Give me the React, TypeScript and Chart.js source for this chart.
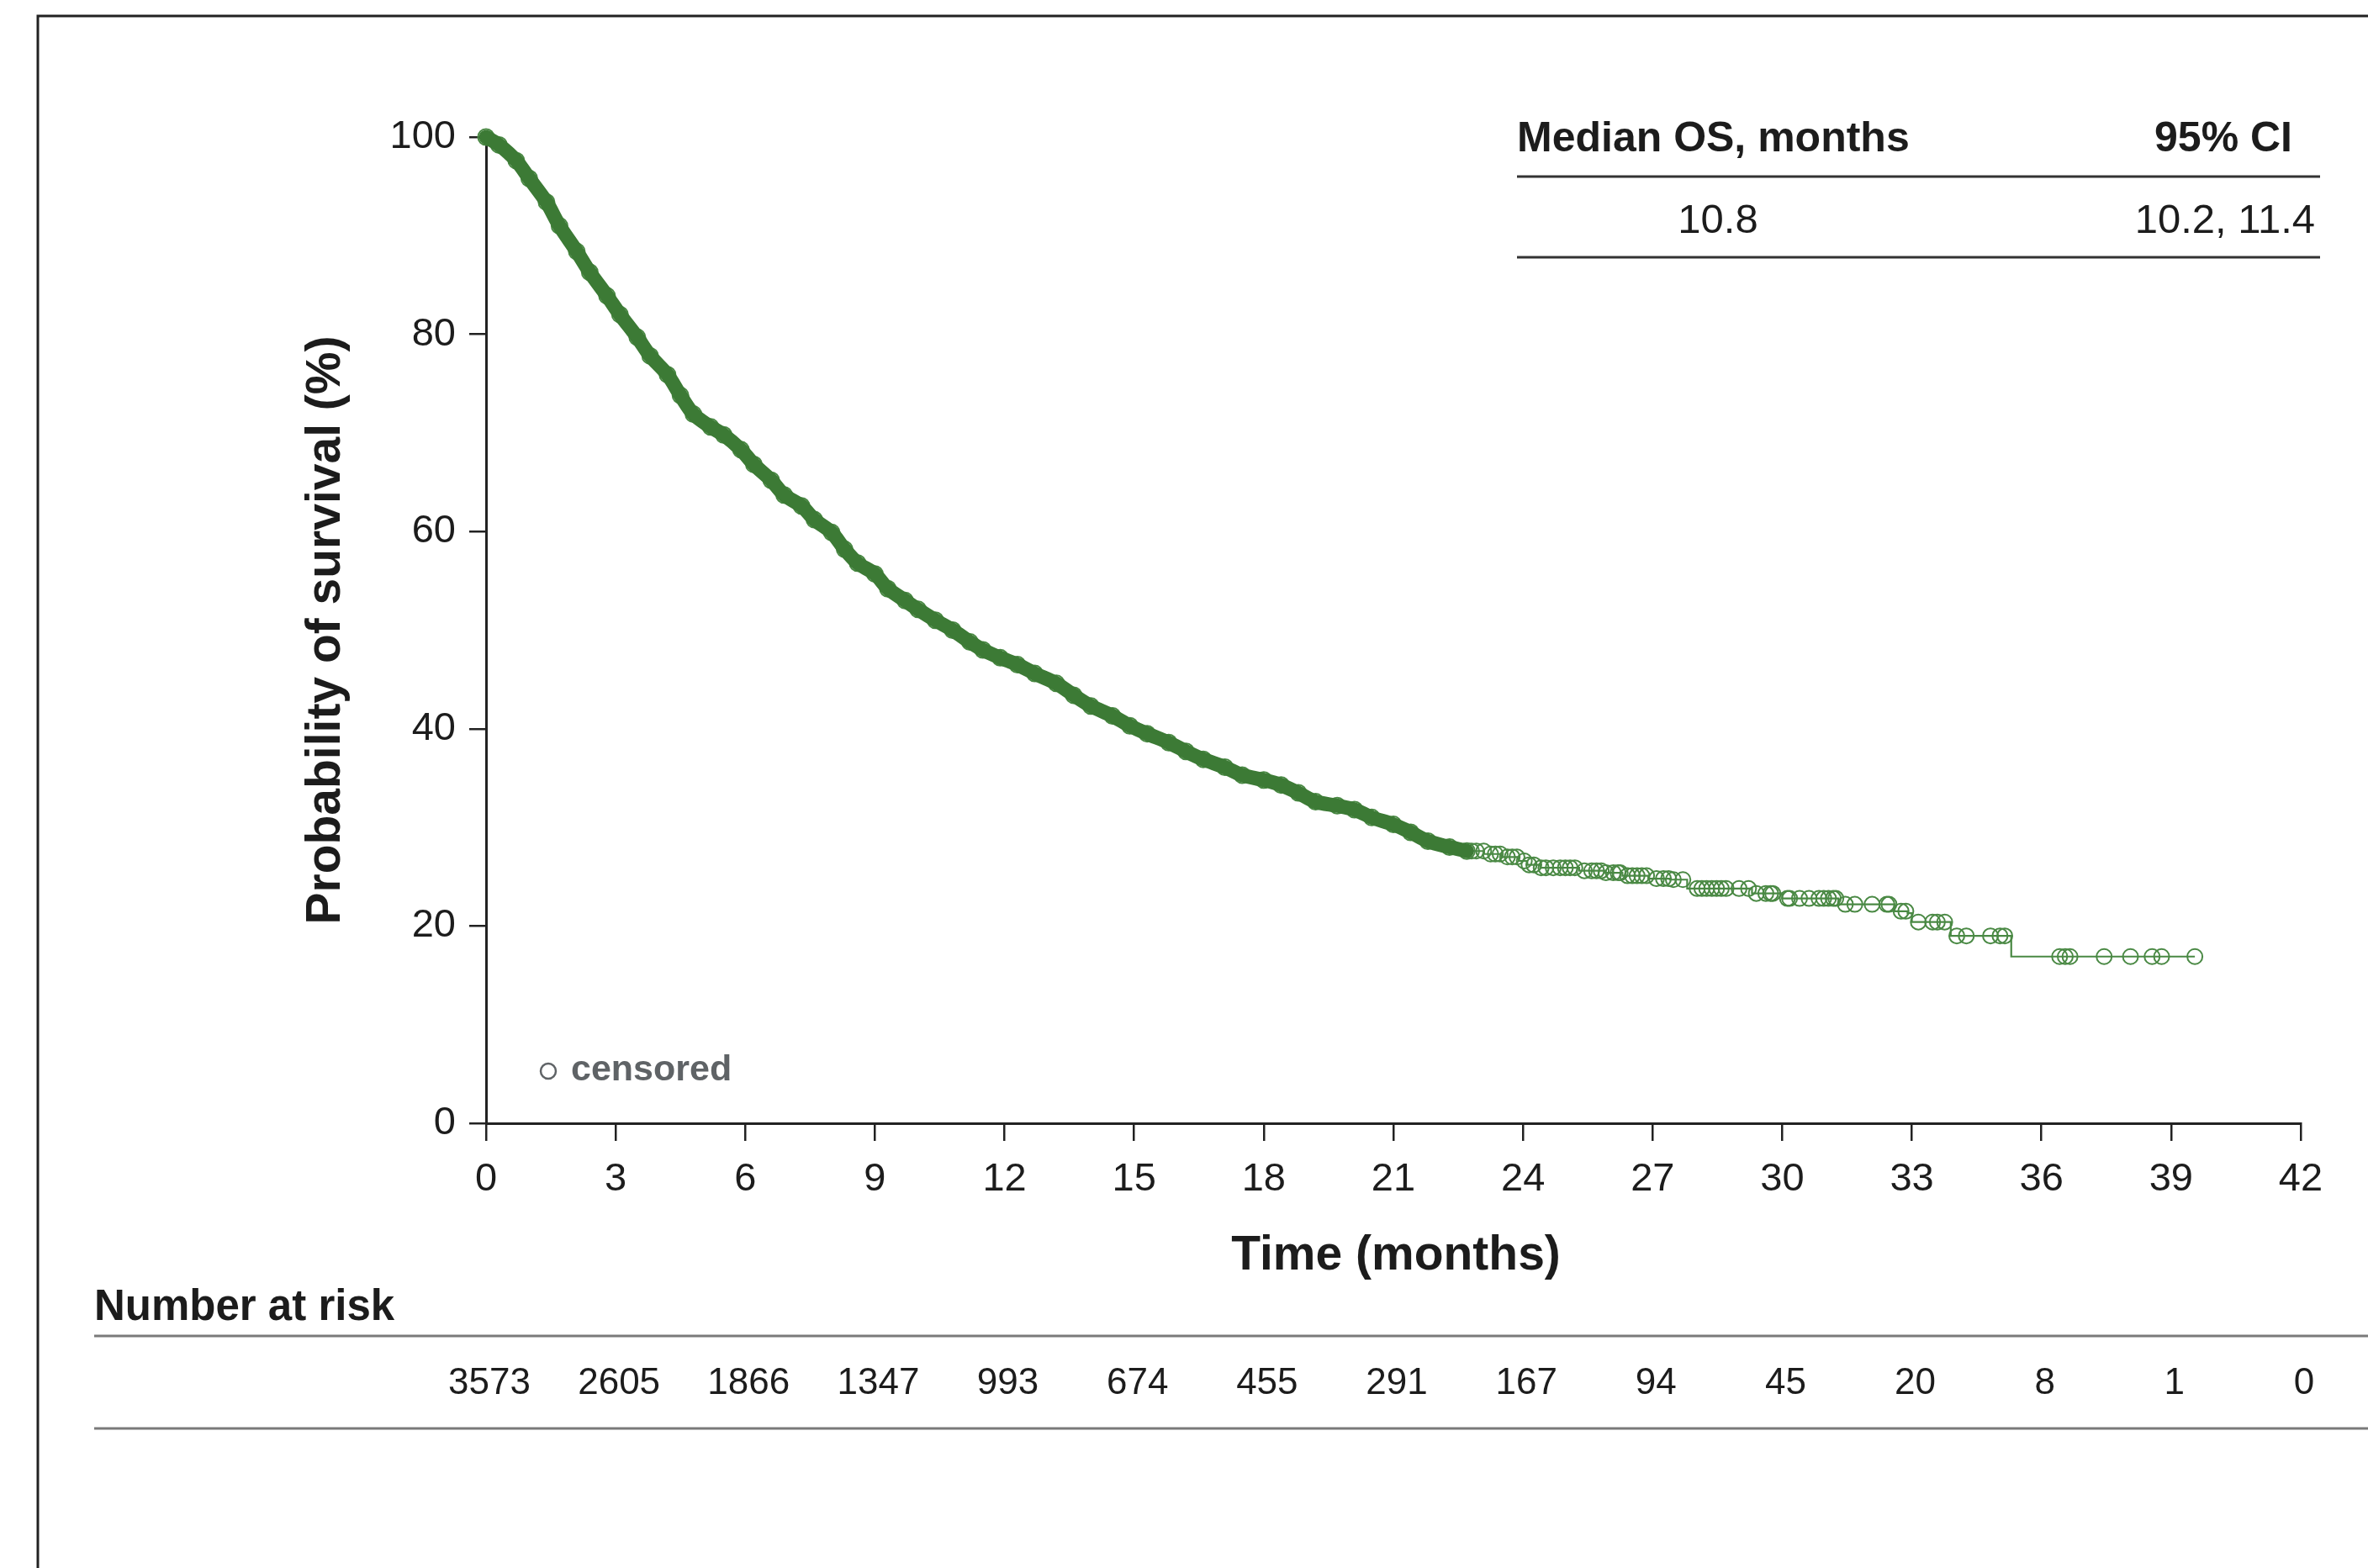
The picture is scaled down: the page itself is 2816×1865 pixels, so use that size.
import React, { useEffect, useRef } from 'react';
import { Chart, registerables } from 'chart.js';

Chart.register(...registerables);

const FONT = "'Liberation Sans', Arial, Helvetica, sans-serif";

const X_TICKS = [0, 3, 6, 9, 12, 15, 18, 21, 24, 27, 30, 33, 36, 39, 42];
const Y_TICKS = [0, 20, 40, 60, 80, 100];
const AT_RISK = [3573, 2605, 1866, 1347, 993, 674, 455, 291, 167, 94, 45, 20, 8, 1, 0];

const MEDIAN_OS = '10.8';
const CI_95 = '10.2, 11.4';

// Dense part of the Kaplan-Meier curve (0-22.7 months)
const BAND_TIME = [0, 0.3, 0.7, 1.0, 1.4, 1.7, 2.1, 2.4, 2.8, 3.1, 3.5, 3.8, 4.2, 4.5, 4.8, 5.2, 5.5, 5.9, 6.2, 6.6,
  6.9, 7.3, 7.6, 8.0, 8.3, 8.6, 9.0, 9.3, 9.7, 10.0, 10.4, 10.8, 11.2, 11.5, 11.9, 12.3, 12.7, 13.2, 13.6, 14.0,
  14.5, 14.9, 15.3, 15.8, 16.2, 16.6, 17.1, 17.5, 18.0, 18.4, 18.8, 19.2, 19.7, 20.1, 20.5, 21.0, 21.4, 21.8, 22.3, 22.7];
const BAND_SURV = [100, 99.2, 97.6, 95.8, 93.4, 91.0, 88.4, 86.3, 83.9, 82.0, 79.7, 77.8, 75.9, 73.8, 71.9, 70.6, 69.8, 68.3, 66.8, 65.2,
  63.7, 62.6, 61.2, 59.9, 58.2, 56.8, 55.7, 54.2, 53.0, 52.1, 51.0, 50.0, 48.8, 48.0, 47.2, 46.5, 45.6, 44.6, 43.4, 42.3,
  41.3, 40.3, 39.5, 38.6, 37.7, 36.9, 36.1, 35.3, 34.8, 34.3, 33.5, 32.6, 32.2, 31.8, 31.0, 30.3, 29.5, 28.6, 28.0, 27.6];

// Sparse tail of the curve as steps (time of drop, new survival %)
const KM_TIME = [22.7, 23.1, 23.5, 23.9, 24.1, 24.4, 25.3, 25.9, 26.3, 26.9, 27.4, 27.8, 29.3, 30.0, 31.3, 32.6, 32.9, 33.0, 33.9, 35.3, 39.55];
const KM_SURV = [27.6, 27.3, 27.0, 26.6, 26.2, 25.9, 25.6, 25.4, 25.1, 24.8, 24.7, 23.8, 23.3, 22.8, 22.2, 21.5, 21.3, 20.4, 19.0, 16.9, 16.9];

// Censoring marks in the tail
const CENSOR_TIME = [22.81, 22.92, 23.09, 23.25, 23.36, 23.47, 23.64, 23.75, 23.86, 24.03, 24.14, 24.25, 24.42, 24.53,
  24.70, 24.86, 24.98, 25.09, 25.20, 25.42, 25.59, 25.70, 25.81, 25.92, 26.09, 26.20, 26.25, 26.42, 26.53, 26.64,
  26.75, 26.86, 27.09, 27.25, 27.37, 27.48, 27.70, 28.03, 28.14, 28.25, 28.37, 28.48, 28.59, 28.70, 29.0, 29.22,
  29.40, 29.62, 29.73, 29.78, 30.12, 30.17, 30.40, 30.62, 30.85, 30.96, 31.07, 31.18, 31.24, 31.46, 31.68, 32.08,
  32.42, 32.47, 32.75, 32.86, 33.15, 33.48, 33.59, 33.76, 34.04, 34.26, 34.82, 35.04, 35.15, 36.42, 36.55, 36.66,
  37.45, 38.06, 38.56, 38.78, 39.55];

const GREEN_DARK = '#3c7a35';
const GREEN = '#4a8944';
const GREY = '#5f6366';
const INK = '#1c1c1c';

function survAt(t: number): number {
  let v = KM_SURV[0];
  for (let i = 0; i < KM_TIME.length; i++) {
    if (KM_TIME[i] <= t) v = KM_SURV[i];
  }
  return v;
}

const overlayPlugin = {
  id: 'overlay',
  afterDraw(chart: any) {
    const ctx = chart.ctx as CanvasRenderingContext2D;
    const xs = chart.scales.x;
    const ys = chart.scales.y;
    ctx.save();

    // frame (top + left)
    ctx.strokeStyle = '#222';
    ctx.lineWidth = 3;
    ctx.beginPath();
    ctx.moveTo(45, 1865);
    ctx.lineTo(45, 19);
    ctx.lineTo(2816, 19);
    ctx.stroke();

    // y axis title
    ctx.fillStyle = INK;
    ctx.save();
    ctx.font = `bold 57px ${FONT}`;
    ctx.translate(388, (ys.top + ys.bottom) / 2);
    ctx.rotate(-Math.PI / 2);
    ctx.textAlign = 'center';
    ctx.textBaseline = 'middle';
    ctx.fillText('Probability of survival (%)', 0, 0);
    ctx.restore();

    // x axis title
    ctx.font = `bold 57px ${FONT}`;
    ctx.textAlign = 'center';
    ctx.textBaseline = 'middle';
    ctx.fillText('Time (months)', 1660, 1494);

    // median OS table
    ctx.font = `bold 50px ${FONT}`;
    ctx.textAlign = 'left';
    ctx.fillText('Median OS, months', 1804, 166);
    ctx.textAlign = 'right';
    ctx.fillText('95% CI', 2726, 166);
    ctx.font = `49px ${FONT}`;
    ctx.textAlign = 'center';
    ctx.fillText(MEDIAN_OS, 2043, 263);
    ctx.textAlign = 'right';
    ctx.fillText(CI_95, 2753, 263);
    ctx.strokeStyle = '#333';
    ctx.lineWidth = 3;
    ctx.beginPath();
    ctx.moveTo(1804, 210);
    ctx.lineTo(2759, 210);
    ctx.moveTo(1804, 306);
    ctx.lineTo(2759, 306);
    ctx.stroke();

    // censored legend
    ctx.strokeStyle = GREY;
    ctx.lineWidth = 2.5;
    ctx.beginPath();
    ctx.arc(652, 1274, 9, 0, Math.PI * 2);
    ctx.stroke();
    ctx.fillStyle = GREY;
    ctx.font = `bold 43px ${FONT}`;
    ctx.textAlign = 'left';
    ctx.fillText('censored', 679, 1273);

    // number at risk
    ctx.fillStyle = INK;
    ctx.font = `bold 51px ${FONT}`;
    ctx.textAlign = 'left';
    ctx.fillText('Number at risk', 112, 1556);
    ctx.strokeStyle = '#7a7a7a';
    ctx.lineWidth = 3;
    ctx.beginPath();
    ctx.moveTo(112, 1589);
    ctx.lineTo(2816, 1589);
    ctx.moveTo(112, 1699);
    ctx.lineTo(2816, 1699);
    ctx.stroke();
    ctx.font = `44px ${FONT}`;
    ctx.textAlign = 'center';
    AT_RISK.forEach((n, i) => {
      ctx.fillText(String(n), xs.getPixelForValue(X_TICKS[i]) + 4, 1646);
    });

    ctx.restore();
  },
};

export default function App() {
  const canvasRef = useRef<HTMLCanvasElement | null>(null);

  useEffect(() => {
    document.body.style.margin = '0';
    const canvas = canvasRef.current;
    if (!canvas) return;

    const band = BAND_TIME.map((t, i) => ({ x: t, y: BAND_SURV[i] }));
    const km = KM_TIME.map((t, i) => ({ x: t, y: KM_SURV[i] }));
    const censors = CENSOR_TIME.map((t) => ({ x: t, y: survAt(t) }));

    const chart = new Chart(canvas, {
      type: 'line',
      data: {
        datasets: [
          {
            data: band,
            borderColor: GREEN_DARK,
            borderWidth: 17,
            borderCapStyle: 'round',
            borderJoinStyle: 'round',
            pointRadius: 0,
            tension: 0.3,
            clip: false,
          } as any,
          {
            data: band,
            showLine: false,
            pointRadius: 9.5,
            pointStyle: 'circle',
            pointBorderColor: GREEN,
            pointBackgroundColor: 'rgba(0,0,0,0)',
            pointBorderWidth: 2,
            clip: false,
          } as any,
          {
            data: km,
            stepped: 'before',
            borderColor: GREEN,
            borderWidth: 2.2,
            pointRadius: 0,
            clip: false,
          } as any,
          {
            data: censors,
            showLine: false,
            pointRadius: 9,
            pointStyle: 'circle',
            pointBorderColor: GREEN,
            pointBackgroundColor: 'rgba(0,0,0,0)',
            pointBorderWidth: 2,
            clip: false,
          } as any,
        ],
      },
      options: {
        responsive: false,
        devicePixelRatio: 1,
        animation: false,
        events: [],
        layout: { padding: { left: 0, top: 163, right: 80, bottom: 0 } },
        plugins: { legend: { display: false }, tooltip: { enabled: false } },
        scales: {
          x: {
            type: 'linear',
            min: 0,
            max: 42,
            afterFit: (s: any) => { s.height = 1865 - 1336; },
            afterBuildTicks: (s: any) => { s.ticks = X_TICKS.map((v) => ({ value: v })); },
            ticks: { color: INK, font: { family: FONT, size: 47 }, padding: 18, maxRotation: 0, autoSkip: false },
            grid: { drawOnChartArea: false, drawTicks: true, tickLength: 21, color: '#222', lineWidth: 2.5 },
            border: { display: true, color: '#222', width: 3 },
          },
          y: {
            type: 'linear',
            min: 0,
            max: 100,
            afterFit: (s: any) => { s.width = 578; },
            afterBuildTicks: (s: any) => { s.ticks = Y_TICKS.map((v) => ({ value: v })); },
            ticks: { color: INK, font: { family: FONT, size: 47 }, padding: 16 },
            grid: { drawOnChartArea: false, drawTicks: true, tickLength: 20, color: '#222', lineWidth: 2.5 },
            border: { display: true, color: '#222', width: 3 },
          },
        },
      },
      plugins: [overlayPlugin],
    });

    return () => chart.destroy();
  }, []);

  return (
    <div style={{ width: 2816, height: 1865, position: 'relative', background: '#fff' }}>
      <canvas ref={canvasRef} width={2816} height={1865} style={{ display: 'block', width: 2816, height: 1865 }} />
    </div>
  );
}
